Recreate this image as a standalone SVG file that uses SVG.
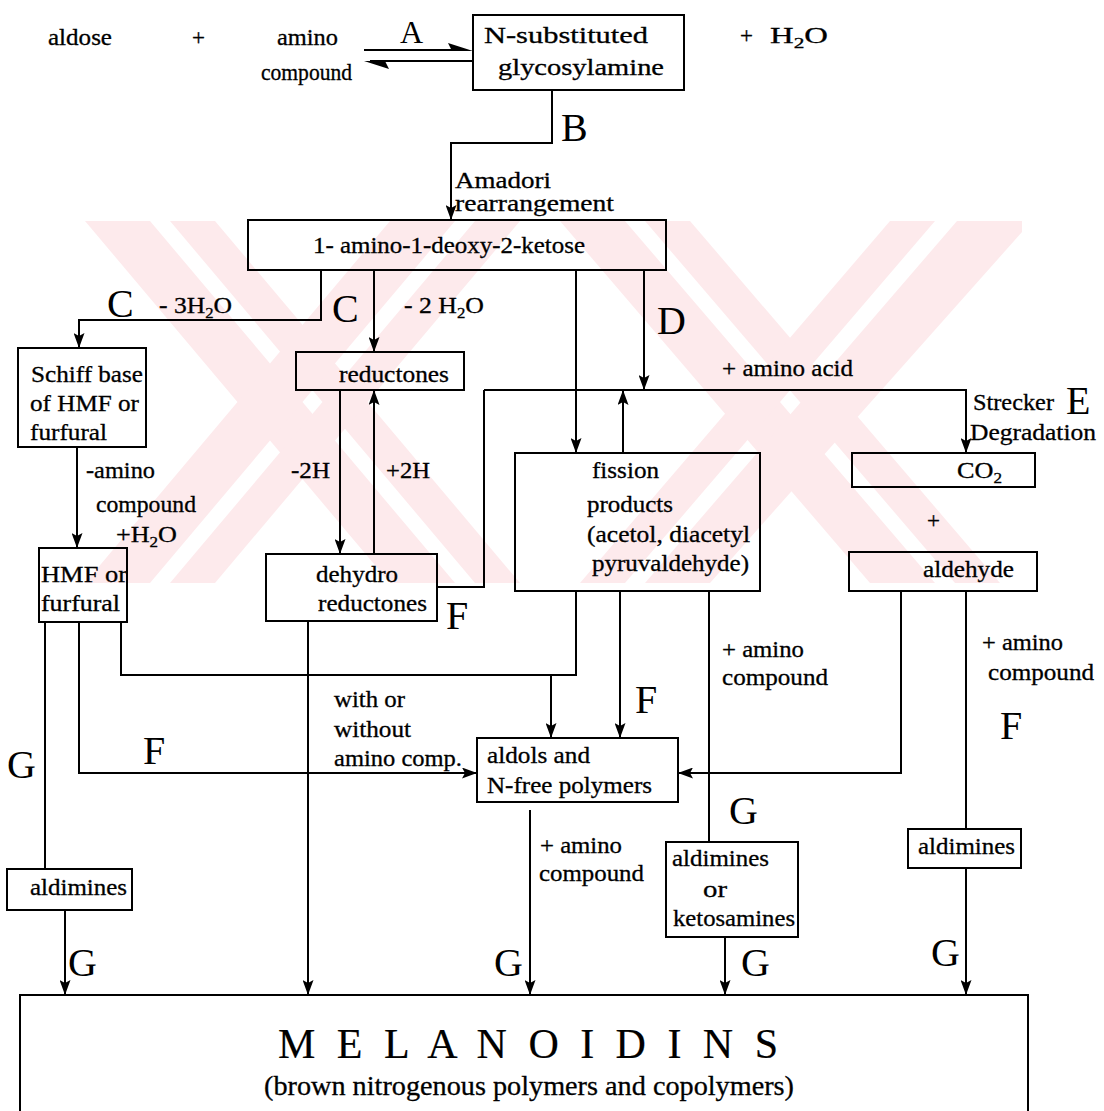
<svg xmlns="http://www.w3.org/2000/svg" width="1104" height="1111" viewBox="0 0 1104 1111">
<defs>
<style>
.t{font-family:"Liberation Serif","Times New Roman",serif;font-size:23px;fill:#000;stroke:#000;stroke-width:0.3}
.big{font-family:"Liberation Serif","Times New Roman",serif;font-size:40px;fill:#000}
.box{fill:none;stroke:#000;stroke-width:2}
.ln{fill:none;stroke:#000;stroke-width:2}
.wm{fill:#fdeaec}
</style>
<marker id="ah" viewBox="0 0 15 11" refX="15" refY="5.5" markerWidth="15" markerHeight="11" markerUnits="userSpaceOnUse" orient="auto"><path d="M0,0 L15,5.5 L0,11 L3,5.5 z" fill="#000"/></marker>
<clipPath id="wmclip"><rect x="85" y="221" width="937" height="362"/></clipPath>
</defs>
<rect width="1104" height="1111" fill="#fff"/>
<g id="watermark" clip-path="url(#wmclip)">
<polygon class="wm" points="85,221 150,221 455,583 390,583"/>
<polygon class="wm" points="170,221 215,221 520,583 475,583"/>
<polygon class="wm" points="390,221 455,221 150,583 85,583"/>
<polygon class="wm" points="475,221 520,221 215,583 170,583"/>
<polygon class="wm" points="560,221 625,221 935,583 870,583"/>
<polygon class="wm" points="645,221 690,221 1000,583 955,583"/>
<polygon class="wm" points="957,221 1022,221 1022,232 710,583 645,583"/>
<polygon class="wm" points="890,221 935,221 625,583 580,583"/>
</g>
<g id="connectors">
<line class="ln" x1="364" y1="50" x2="466" y2="50"/>
<polygon points="473,51 448,43 452,51" fill="#000"/>
<line class="ln" x1="370" y1="61" x2="473" y2="61"/>
<polygon points="364,61 389,69 385,61" fill="#000"/>
<path class="ln" d="M552,90 V143 H451 V220" marker-end="url(#ah)"/>
<path class="ln" d="M321,270 V320 H79 V348" marker-end="url(#ah)"/>
<path class="ln" d="M374,270 V352" marker-end="url(#ah)"/>
<path class="ln" d="M576,270 V453" marker-end="url(#ah)"/>
<path class="ln" d="M644,270 V390" marker-end="url(#ah)"/>
<path class="ln" d="M484,390 H966 V453" marker-end="url(#ah)"/>
<path class="ln" d="M484,390 V587 H437"/>
<path class="ln" d="M623,453 V390" marker-end="url(#ah)"/>
<path class="ln" d="M340,390 V554" marker-end="url(#ah)"/>
<path class="ln" d="M374,554 V390" marker-end="url(#ah)"/>
<path class="ln" d="M77,447 V548" marker-end="url(#ah)"/>
<path class="ln" d="M45,622 V869"/>
<path class="ln" d="M79,622 V773 H477" marker-end="url(#ah)"/>
<path class="ln" d="M121,622 V675 H576 V591"/>
<path class="ln" d="M551,675 V738" marker-end="url(#ah)"/>
<path class="ln" d="M620,591 V738" marker-end="url(#ah)"/>
<path class="ln" d="M709,591 V842"/>
<path class="ln" d="M901,591 V773 H678" marker-end="url(#ah)"/>
<path class="ln" d="M966,591 V829"/>
<path class="ln" d="M966,868 V995" marker-end="url(#ah)"/>
<path class="ln" d="M725,937 V995" marker-end="url(#ah)"/>
<path class="ln" d="M530,810 V995" marker-end="url(#ah)"/>
<path class="ln" d="M308,621 V995" marker-end="url(#ah)"/>
<path class="ln" d="M65,910 V995" marker-end="url(#ah)"/>
</g>
<g id="reactants">
<text class="t" x="48" y="45" textLength="64" lengthAdjust="spacingAndGlyphs">aldose</text>
<text class="t" x="192" y="45">+</text>
<text class="t" x="277" y="45" textLength="61" lengthAdjust="spacingAndGlyphs">amino</text>
<text class="t" x="261" y="80" textLength="91" lengthAdjust="spacingAndGlyphs">compound</text>
</g>
<g id="n-glycosylamine">
<rect class="box" x="473" y="15" width="211" height="75"/>
<text class="t" x="484" y="43" textLength="164" lengthAdjust="spacingAndGlyphs">N-substituted</text>
<text class="t" x="498" y="75" textLength="166" lengthAdjust="spacingAndGlyphs">glycosylamine</text>
</g>
<g id="water">
<text class="t" x="740" y="43">+</text>
<text class="t" x="770" y="43" textLength="58" lengthAdjust="spacingAndGlyphs">H<tspan font-size="15" dy="5">2</tspan><tspan dy="-5">O</tspan></text>
</g>
<g id="ketose">
<rect class="box" x="248" y="220" width="418" height="50"/>
<text class="t" x="313" y="253" textLength="272" lengthAdjust="spacingAndGlyphs">1- amino-1-deoxy-2-ketose</text>
</g>
<g id="schiff-base">
<rect class="box" x="18" y="348" width="128" height="99"/>
<text class="t" x="31" y="382" textLength="112" lengthAdjust="spacingAndGlyphs">Schiff base</text>
<text class="t" x="30" y="411" textLength="109" lengthAdjust="spacingAndGlyphs">of HMF or</text>
<text class="t" x="30" y="440" textLength="77" lengthAdjust="spacingAndGlyphs">furfural</text>
</g>
<g id="reductones">
<rect class="box" x="296" y="352" width="168" height="38"/>
<text class="t" x="339" y="382" textLength="110" lengthAdjust="spacingAndGlyphs">reductones</text>
</g>
<g id="fission-products">
<rect class="box" x="515" y="453" width="245" height="138"/>
<text class="t" x="592" y="478" textLength="67" lengthAdjust="spacingAndGlyphs">fission</text>
<text class="t" x="587" y="512" textLength="86" lengthAdjust="spacingAndGlyphs">products</text>
<text class="t" x="587" y="542" textLength="163" lengthAdjust="spacingAndGlyphs">(acetol, diacetyl</text>
<text class="t" x="592" y="571" textLength="157" lengthAdjust="spacingAndGlyphs">pyruvaldehyde)</text>
</g>
<g id="co2">
<rect class="box" x="852" y="453" width="183" height="34"/>
<text class="t" x="957" y="478" textLength="45" lengthAdjust="spacingAndGlyphs">CO<tspan font-size="15" dy="5">2</tspan></text>
</g>
<g id="aldehyde">
<rect class="box" x="849" y="552" width="188" height="39"/>
<text class="t" x="923" y="577" textLength="91" lengthAdjust="spacingAndGlyphs">aldehyde</text>
</g>
<g id="hmf">
<rect class="box" x="39" y="548" width="88" height="74"/>
<text class="t" x="41" y="582" textLength="86" lengthAdjust="spacingAndGlyphs">HMF or</text>
<text class="t" x="41" y="611" textLength="79" lengthAdjust="spacingAndGlyphs">furfural</text>
</g>
<g id="dehydroreductones">
<rect class="box" x="266" y="554" width="171" height="67"/>
<text class="t" x="316" y="582" textLength="82" lengthAdjust="spacingAndGlyphs">dehydro</text>
<text class="t" x="318" y="611" textLength="109" lengthAdjust="spacingAndGlyphs">reductones</text>
</g>
<g id="aldols">
<rect class="box" x="477" y="738" width="201" height="64"/>
<text class="t" x="487" y="763" textLength="103" lengthAdjust="spacingAndGlyphs">aldols and</text>
<text class="t" x="487" y="793" textLength="165" lengthAdjust="spacingAndGlyphs">N-free polymers</text>
</g>
<g id="aldimines-ketosamines">
<rect class="box" x="666" y="842" width="132" height="95"/>
<text class="t" x="672" y="866" textLength="97" lengthAdjust="spacingAndGlyphs">aldimines</text>
<text class="t" x="703" y="897" textLength="24" lengthAdjust="spacingAndGlyphs">or</text>
<text class="t" x="673" y="926" textLength="122" lengthAdjust="spacingAndGlyphs">ketosamines</text>
</g>
<g id="aldimines-right">
<rect class="box" x="908" y="829" width="113" height="39"/>
<text class="t" x="918" y="854" textLength="97" lengthAdjust="spacingAndGlyphs">aldimines</text>
</g>
<g id="aldimines-left">
<rect class="box" x="7" y="869" width="125" height="41"/>
<text class="t" x="30" y="895" textLength="97" lengthAdjust="spacingAndGlyphs">aldimines</text>
</g>
<g id="melanoidins">
<rect class="box" x="20" y="995" width="1008" height="125"/>
<text class="t" x="278" y="1058" style="font-size:42px;stroke-width:0.2" textLength="500" lengthAdjust="spacing">M E L A N O I D I N S</text>
<text class="t" x="264" y="1095" style="font-size:28px" textLength="530" lengthAdjust="spacingAndGlyphs">(brown nitrogenous polymers and copolymers)</text>
</g>
<g id="labels">
<text class="big" x="400" y="43" style="font-size:32px">A</text>
<text class="big" x="561" y="141">B</text>
<text class="big" x="107" y="317">C</text>
<text class="t" x="159" y="313" textLength="73" lengthAdjust="spacingAndGlyphs">- 3H<tspan font-size="15" dy="5">2</tspan><tspan dy="-5">O</tspan></text>
<text class="big" x="332" y="322">C</text>
<text class="t" x="404" y="313" textLength="80" lengthAdjust="spacingAndGlyphs">- 2 H<tspan font-size="15" dy="5">2</tspan><tspan dy="-5">O</tspan></text>
<text class="big" x="657" y="334">D</text>
<text class="t" x="455" y="188" textLength="96" lengthAdjust="spacingAndGlyphs">Amadori</text>
<text class="t" x="455" y="211" textLength="159" lengthAdjust="spacingAndGlyphs">rearrangement</text>
<text class="t" x="722" y="376" textLength="131" lengthAdjust="spacingAndGlyphs">+ amino acid</text>
<text class="t" x="973" y="410" textLength="81" lengthAdjust="spacingAndGlyphs">Strecker</text>
<text class="big" x="1066" y="414">E</text>
<text class="t" x="970" y="440" textLength="126" lengthAdjust="spacingAndGlyphs">Degradation</text>
<text class="t" x="86" y="478" textLength="69" lengthAdjust="spacingAndGlyphs">-amino</text>
<text class="t" x="96" y="512" textLength="100" lengthAdjust="spacingAndGlyphs">compound</text>
<text class="t" x="116" y="542" textLength="61" lengthAdjust="spacingAndGlyphs">+H<tspan font-size="15" dy="5">2</tspan><tspan dy="-5">O</tspan></text>
<text class="t" x="291" y="478" textLength="39" lengthAdjust="spacingAndGlyphs">-2H</text>
<text class="t" x="386" y="478" textLength="44" lengthAdjust="spacingAndGlyphs">+2H</text>
<text class="t" x="927" y="528">+</text>
<text class="big" x="446" y="629">F</text>
<text class="t" x="722" y="657" textLength="82" lengthAdjust="spacingAndGlyphs">+ amino</text>
<text class="t" x="722" y="685" textLength="106" lengthAdjust="spacingAndGlyphs">compound</text>
<text class="t" x="982" y="650" textLength="81" lengthAdjust="spacingAndGlyphs">+ amino</text>
<text class="t" x="988" y="680" textLength="106" lengthAdjust="spacingAndGlyphs">compound</text>
<text class="big" x="635" y="713">F</text>
<text class="t" x="334" y="707" textLength="71" lengthAdjust="spacingAndGlyphs">with or</text>
<text class="t" x="334" y="737" textLength="77" lengthAdjust="spacingAndGlyphs">without</text>
<text class="t" x="334" y="766" textLength="128" lengthAdjust="spacingAndGlyphs">amino comp.</text>
<text class="big" x="143" y="764">F</text>
<text class="big" x="7" y="778">G</text>
<text class="big" x="1000" y="739">F</text>
<text class="big" x="729" y="824">G</text>
<text class="t" x="540" y="853" textLength="82" lengthAdjust="spacingAndGlyphs">+ amino</text>
<text class="t" x="539" y="881" textLength="105" lengthAdjust="spacingAndGlyphs">compound</text>
<text class="big" x="68" y="976">G</text>
<text class="big" x="494" y="976">G</text>
<text class="big" x="741" y="976">G</text>
<text class="big" x="931" y="966">G</text>
</g>
</svg>
